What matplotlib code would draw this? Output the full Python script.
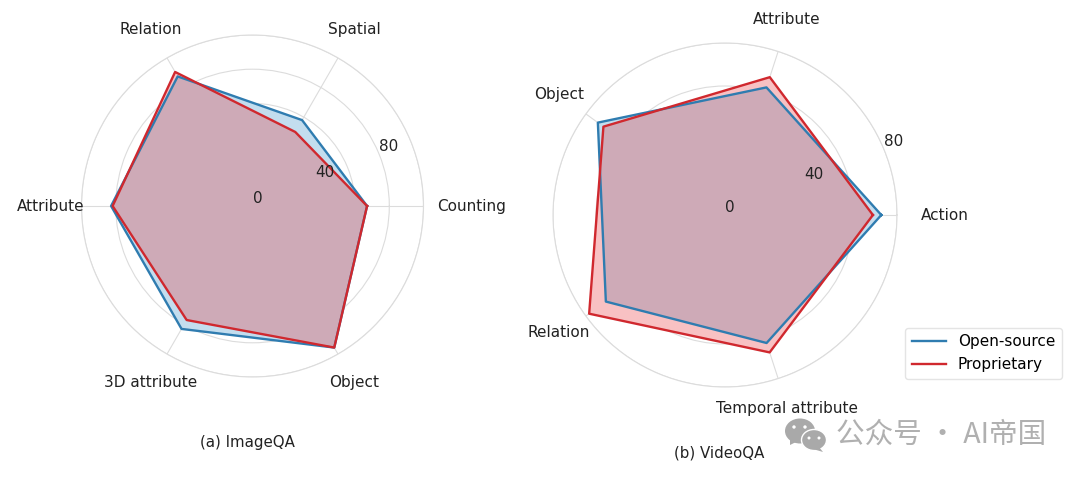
import numpy as np
import matplotlib
matplotlib.use('Agg')
import matplotlib.pyplot as plt
from matplotlib.patches import Ellipse, Polygon

W, H = 1080, 479

# left chart
image_labels = ['Counting', 'Spatial', 'Relation', 'Attribute', '3D attribute', 'Object']
image_open = [67, 58, 87.5, 82.7, 83, 95.6]
image_prop = [67, 50, 90.5, 81.8, 77, 95.6]

# right chart
video_labels = ['Action', 'Attribute', 'Object', 'Relation', 'Temporal attribute']
video_open = [72.7, 62.4, 73.1, 68.5, 62.6]
video_prop = [68.8, 67.4, 69.9, 78.1, 67.2]

r_ticks = [0, 20, 40, 60, 80, 100]
r_tick_labels = ['0', '', '40', '', '80', '']

BLUE = '#2f7cb0'
RED = '#d0282e'
GRID = '#dcdcdc'
TEXT = '#222222'


def radar(fig, cx, cy, radius, rmax, labels, open_vals, prop_vals, label_pos):
    # axes placed in pixels, cx/cy measured from top left
    ax = fig.add_axes([(cx - radius) / W, 1 - (cy + radius) / H, 2 * radius / W, 2 * radius / H],
                      projection='polar')
    angles = np.arange(len(labels)) * 2 * np.pi / len(labels)
    closed = np.append(angles, angles[0])
    open_closed = open_vals + open_vals[:1]
    prop_closed = prop_vals + prop_vals[:1]

    # white underlay so the grid does not show through the shaded area
    ax.fill(closed, open_closed, color='white', lw=0, zorder=3)
    ax.fill(closed, prop_closed, color='white', lw=0, zorder=3)
    ax.fill(closed, open_closed, color='#3a8fc8', alpha=0.3, lw=0, zorder=3)
    ax.fill(closed, prop_closed, color='#e8343a', alpha=0.3, lw=0, zorder=3)
    ax.plot(closed, open_closed, color=BLUE, lw=1.7, label='Open-source', zorder=4)
    ax.plot(closed, prop_closed, color=RED, lw=1.7, label='Proprietary', zorder=4)

    ticks = [t for t in r_ticks if t <= rmax]
    ax.set_ylim(0, rmax)
    ax.set_yticks(ticks)
    ax.set_yticklabels([])
    ax.set_xticks(angles)
    ax.set_xticklabels([])
    ax.grid(color=GRID, lw=0.8)
    ax.spines['polar'].set_color(GRID)
    ax.spines['polar'].set_linewidth(0.8)
    ax.tick_params(axis='both', length=0)

    # radial labels have to sit above the fill, so they are not tick labels here
    for t, name in zip(ticks, r_tick_labels):
        ax.annotate(name, (np.radians(22.5), t), xytext=(0, 0), textcoords='offset points',
                    ha='left', va='bottom', fontsize=11, color=TEXT, zorder=6,
                    annotation_clip=False)

    for name, (a, r) in zip(labels, label_pos):
        ax.text(np.radians(a), r * rmax, name, ha='center', va='center', fontsize=11, color=TEXT,
                clip_on=False)
    return ax


fig = plt.figure(figsize=(W / 100, H / 100), dpi=100)

radar(fig, 252.5, 206, 171, 100, image_labels, image_open, image_prop,
      [(0, 1.28), (60, 1.19), (120, 1.19), (180, 1.18), (240, 1.19), (300, 1.19)])
ax_v = radar(fig, 725, 215, 172, 80, video_labels, video_open, video_prop,
             [(0, 1.279), (72.4, 1.19), (144, 1.194), (215.4, 1.184), (287.8, 1.18)])

# overlay in pixel coordinates for captions and watermark
over = fig.add_axes([0, 0, 1, 1], zorder=5)
over.set_xlim(0, W)
over.set_ylim(H, 0)
over.axis('off')
over.text(247, 443, '(a) ImageQA', ha='center', va='center', fontsize=10.8, color=TEXT)
over.text(719, 453, '(b) VideoQA', ha='center', va='center', fontsize=10.8, color=TEXT)

# wechat watermark
GREY = '#a9a9a9'
over.add_patch(Ellipse((800, 431), 30, 25, color=GREY, lw=0))
over.add_patch(Polygon([[790, 438], [790, 445], [798, 441]], color=GREY, lw=0))
over.add_patch(Ellipse((814, 440), 25, 21, facecolor=GREY, edgecolor='white', lw=1))
over.add_patch(Polygon([[819, 447], [823, 452], [813, 449]], color=GREY, lw=0))
for x, y, s in [(794, 427, 3.4), (805, 427, 3.4), (809, 438, 3), (819, 438, 3)]:
    over.add_patch(Ellipse((x, y), s, s, color='white', lw=0))
over.text(836, 435, '公众号 · AI帝国', ha='left', va='center', fontsize=20.6, color='#b0b0b0',
          family=['Noto Sans CJK SC', 'DejaVu Sans'])

handles, names = ax_v.get_legend_handles_labels()
fig.legend(handles, names, loc='lower right', bbox_to_anchor=(1062 / W, 1 - 379 / H), fontsize=11,
           borderaxespad=0, framealpha=1, edgecolor='#e4e4e4', fancybox=True,
           handlelength=2.2, handletextpad=0.8, borderpad=0.45)

fig.savefig('out.png', dpi=100)
